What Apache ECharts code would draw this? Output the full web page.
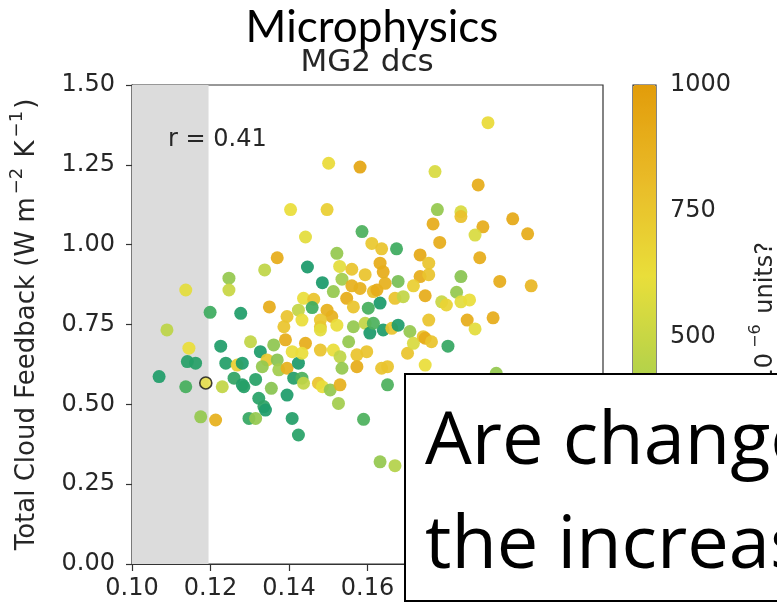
<!DOCTYPE html>
<html>
<head>
<meta charset="utf-8">
<script src="https://cdn.jsdelivr.net/npm/echarts@6/dist/echarts.min.js"></script>
<style>
  html, body { margin: 0; padding: 0; background: #ffffff; }
  #chart { width: 777px; height: 606px; }
</style>
</head>
<body>
<div id="chart"></div>
<script>
// Perturbed-parameter ensemble: [dcs parameter, total cloud feedback, colour variable]
const ensemble = [
  [0.1501,1.255,640],[0.1581,1.243,940],[0.1404,1.110,620],[0.1497,1.110,700],
  [0.1442,1.024,600],[0.1370,0.959,900],[0.1522,0.973,380],[0.1586,1.041,260],
  [0.1907,1.382,640],[0.1772,1.229,560],[0.1882,1.187,900],[0.1778,1.110,380],
  [0.1838,1.103,560],[0.1838,1.088,780],[0.1767,1.065,900],[0.1894,1.056,900],
  [0.1970,1.081,920],[0.1874,1.030,560],[0.2008,1.034,900],[0.1784,1.007,900],
  [0.1611,1.004,740],[0.1636,0.987,760],[0.1674,0.987,230],[0.1734,0.968,920],
  [0.1886,0.959,900],[0.1447,0.930,100],[0.1338,0.921,470],[0.1247,0.895,380],
  [0.1247,0.858,500],[0.1137,0.858,600],[0.1485,0.881,100],[0.1529,0.932,600],
  [0.1560,0.923,760],[0.1594,0.906,760],[0.1535,0.892,400],[0.1560,0.871,880],
  [0.1581,0.863,880],[0.1615,0.853,800],[0.1513,0.853,380],[0.1437,0.832,620],
  [0.1463,0.829,760],[0.1199,0.788,230],[0.1277,0.785,120],[0.1350,0.805,900],
  [0.1424,0.795,480],[0.1459,0.803,240],[0.1497,0.795,880],[0.1509,0.775,880],
  [0.1547,0.832,900],[0.1564,0.805,760],[0.1602,0.801,250],[0.1632,0.817,100],
  [0.1395,0.775,760],[0.1433,0.764,620],[0.1480,0.743,760],[0.1522,0.748,620],
  [0.1564,0.743,380],[0.1594,0.754,480],[0.1606,0.723,100],[0.1387,0.743,760],
  [0.1632,0.942,900],[0.1640,0.915,900],[0.1624,0.858,900],[0.1645,0.879,880],
  [0.1678,0.885,330],[0.1670,0.832,760],[0.1691,0.837,480],[0.1089,0.733,460],
  [0.1480,0.764,740],[0.1480,0.733,600],[0.1640,0.733,110],[0.1662,0.738,760],
  [0.1708,0.728,380],[0.1391,0.702,900],[0.1361,0.686,370],[0.1302,0.696,480],
  [0.1327,0.665,110],[0.1226,0.682,120],[0.1145,0.676,620],[0.1141,0.634,140],
  [0.1162,0.629,140],[0.1239,0.629,130],[0.1268,0.623,700],[0.1281,0.629,110],
  [0.1344,0.639,740],[0.1332,0.618,380],[0.1370,0.639,360],[0.1374,0.608,400],
  [0.1395,0.613,880],[0.1408,0.665,620],[0.1424,0.629,100],[0.1442,0.691,900],
  [0.1433,0.660,620],[0.1480,0.670,760],[0.1513,0.670,620],[0.1530,0.649,470],
  [0.1552,0.696,380],[0.1573,0.655,760],[0.1598,0.665,760],[0.1573,0.618,900],
  [0.1535,0.613,380],[0.1636,0.613,760],[0.1651,0.618,760],[0.1702,0.660,760],
  [0.1717,0.691,560],[0.1069,0.587,120],[0.1137,0.555,250],[0.1230,0.555,480],
  [0.1260,0.582,180],[0.1281,0.561,130],[0.1285,0.555,140],[0.1315,0.578,150],
  [0.1355,0.550,360],[0.1412,0.582,130],[0.1433,0.582,260],[0.1437,0.566,480],
  [0.1475,0.566,760],[0.1485,0.555,620],[0.1505,0.545,380],[0.1530,0.561,880],
  [0.1526,0.503,400],[0.1651,0.561,260],[0.1323,0.519,150],[0.1336,0.493,170],
  [0.1340,0.482,110],[0.1395,0.529,110],[0.1175,0.461,380],[0.1213,0.451,880],
  [0.1298,0.456,200],[0.1315,0.456,380],[0.1408,0.456,130],[0.1590,0.453,260],
  [0.1424,0.404,150],[0.1756,0.942,760],[0.1734,0.900,900],[0.1756,0.906,760],
  [0.1717,0.871,700],[0.1838,0.900,360],[0.1937,0.885,900],[0.2017,0.871,840],
  [0.1747,0.840,900],[0.1827,0.851,380],[0.1789,0.821,500],[0.1801,0.811,680],
  [0.1838,0.821,600],[0.1860,0.827,620],[0.1756,0.764,760],[0.1854,0.764,900],
  [0.1920,0.771,900],[0.1874,0.736,600],[0.1615,0.754,260],[0.1678,0.748,110],
  [0.1742,0.712,760],[0.1747,0.707,900],[0.1763,0.696,760],[0.1805,0.682,200],
  [0.1747,0.623,620],[0.1632,0.320,380],[0.1670,0.308,430],[0.1928,0.597,380]
];

// Default-model run, drawn with an outline
const defaultRun = [[0.1188, 0.567, 620]];

// Shaded range of the dcs parameter
const shadedRange = [0.10, 0.1195];

// Correlation between parameter and feedback
const correlation = 0.41;

// Axis ranges
const xRange = { min: 0.10, max: 0.22, step: 0.02 };
const yRange = { min: 0.00, max: 1.50, step: 0.25 };

// Colour scale
const colorRange = { min: 50, max: 1000 };
const colorbarTicks = [250, 500, 750, 1000];
const colormap = ['#0e9470', '#40ac5e', '#b4d24a', '#e9de3a', '#e9bb28', '#e29c0a'];

const tickFont = 'DejaVu Sans';
const chart = echarts.init(document.getElementById('chart'), null, { renderer: 'canvas' });

chart.setOption({
  backgroundColor: '#ffffff',
  animation: false,
  grid: [
    { left: 131, top: 85, width: 472, height: 479, show: true,
      borderColor: '#333333', borderWidth: 1.2, backgroundColor: '#ffffff' },
    { left: 633, top: 85, width: 23, height: 479, show: true,
      borderColor: '#333333', borderWidth: 1.2 }
  ],
  xAxis: [
    { type: 'value', gridIndex: 0, min: xRange.min, max: xRange.max, interval: xRange.step,
      axisLine: { show: true, onZero: false, lineStyle: { color: '#333333', width: 1.2 } },
      axisTick: { show: true, inside: false, length: 7, lineStyle: { color: '#333333', width: 1.2 } },
      axisLabel: { formatter: v => v.toFixed(2), fontFamily: tickFont, fontSize: 24, color: '#262626', margin: 13 },
      splitLine: { show: false } },
    { type: 'value', gridIndex: 1, min: 0, max: 1, show: false }
  ],
  yAxis: [
    { type: 'value', gridIndex: 0, min: yRange.min, max: yRange.max, interval: yRange.step,
      axisLine: { show: true, onZero: false, lineStyle: { color: '#333333', width: 1.2 } },
      axisTick: { show: true, inside: false, length: 6, lineStyle: { color: '#333333', width: 1.2 } },
      axisLabel: { formatter: v => v.toFixed(2), fontFamily: tickFont, fontSize: 24, color: '#262626', margin: 17 },
      splitLine: { show: false },
      name: '{t|Total Cloud Feedback (W m}{s|−2}{t| K}{s|−1}{t|)}',
      nameLocation: 'middle', nameGap: 92, nameRotate: 90,
      nameTextStyle: {
        rich: {
          t: { fontFamily: tickFont, fontSize: 26, color: '#262626', lineHeight: 32, verticalAlign: 'bottom' },
          s: { fontFamily: tickFont, fontSize: 18, color: '#262626', lineHeight: 32, verticalAlign: 'top',
               padding: [0, 2, 0, 3] }
        }
      } },
    { type: 'value', gridIndex: 1, position: 'right', min: colorRange.min, max: colorRange.max,
      axisLine: { show: false },
      axisTick: { show: true, inside: false, length: 6, customValues: colorbarTicks,
        lineStyle: { color: '#333333', width: 1.2 } },
      axisLabel: { customValues: colorbarTicks, formatter: v => String(v),
        fontFamily: tickFont, fontSize: 24, color: '#262626', margin: 14 },
      splitLine: { show: false } }
  ],
  visualMap: {
    type: 'continuous', seriesIndex: 0, dimension: 2,
    min: colorRange.min, max: colorRange.max,
    left: 633, top: 85, itemWidth: 23, itemHeight: 479, padding: 0,
    calculable: false, text: null, showLabel: false,
    inRange: { color: colormap }
  },
  series: [
    { type: 'scatter', xAxisIndex: 0, yAxisIndex: 0, data: ensemble,
      symbolSize: 13, itemStyle: { opacity: 0.93 }, silent: true, z: 3,
      markArea: { silent: true, itemStyle: { color: '#dcdcdc' },
        data: [[{ xAxis: shadedRange[0] }, { xAxis: shadedRange[1] }]] } },
    { type: 'scatter', xAxisIndex: 0, yAxisIndex: 0, data: defaultRun,
      symbolSize: 12, silent: true, z: 4,
      itemStyle: { color: '#e9de3a', borderColor: '#111111', borderWidth: 1.6 } }
  ],
  graphic: [
    { type: 'text', x: 372, y: 28, z: 100, style: { text: 'Microphysics', fontFamily: 'Lato', fontSize: 44,
        fill: '#000000', align: 'center', verticalAlign: 'middle' } },
    { type: 'text', x: 367, y: 63, z: 100, style: { text: 'MG2 dcs', fontFamily: tickFont, fontSize: 31,
        fill: '#262626', align: 'center', verticalAlign: 'middle' } },
    { type: 'text', x: 168, y: 140, z: 100, style: { text: 'r = ' + correlation.toFixed(2), fontFamily: tickFont,
        fontSize: 24, fill: '#262626', align: 'left', verticalAlign: 'middle' } },
    { type: 'text', x: 763, y: 242, rotation: Math.PI / 2, z: 90,
      style: { text: '{t|10}{s|−6}{t| units?}', align: 'right', verticalAlign: 'middle',
        rich: {
          t: { fontFamily: tickFont, fontSize: 24, fill: '#262626', lineHeight: 30, verticalAlign: 'bottom' },
          s: { fontFamily: tickFont, fontSize: 16, fill: '#262626', lineHeight: 30, verticalAlign: 'top',
               padding: [0, 3, 0, 5] }
        } } },
    { type: 'rect', z: 100, shape: { x: 405, y: 374, width: 420, height: 227 },
      style: { fill: '#ffffff', stroke: '#000000', lineWidth: 2 } },
    { type: 'text', x: 425, y: 443, z: 101, style: { text: 'Are changes in', fontFamily: 'Open Sans', fontSize: 74,
        fill: '#000000', align: 'left', verticalAlign: 'middle' } },
    { type: 'text', x: 425, y: 547, z: 101, style: { text: 'the increase in', fontFamily: 'Open Sans', fontSize: 74,
        fill: '#000000', align: 'left', verticalAlign: 'middle' } }
  ]
});
</script>
</body>
</html>
